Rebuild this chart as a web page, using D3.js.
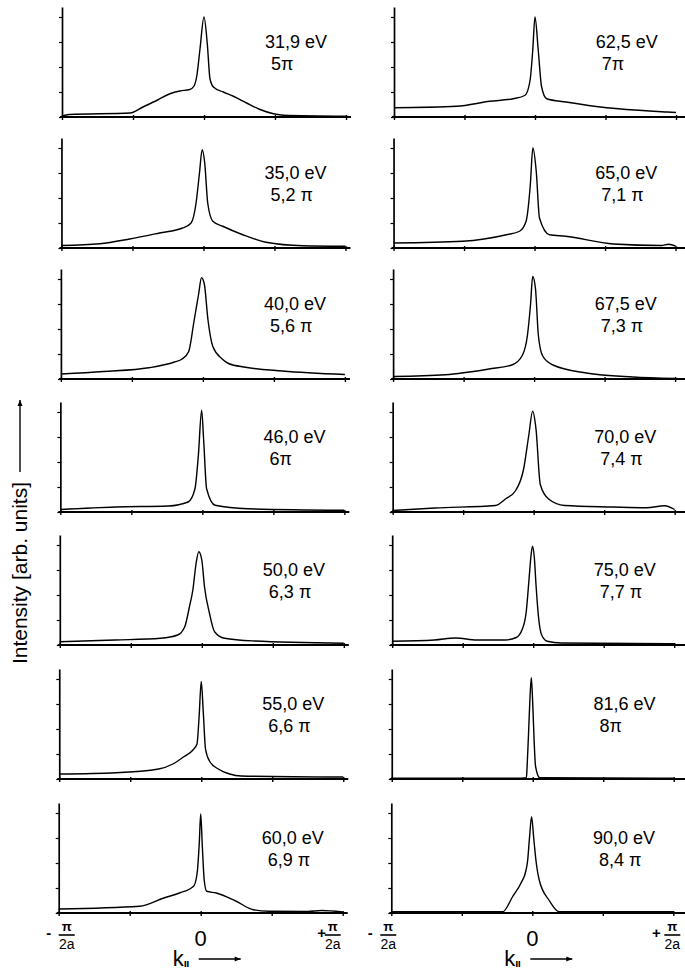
<!DOCTYPE html>
<html><head><meta charset="utf-8">
<script src="https://cdn.jsdelivr.net/npm/d3@7"></script>
<style>body{margin:0;background:#fff} svg{display:block}</style>
</head><body>
<svg id="c" width="685" height="974"></svg>
<script>
// ---- data (k in units of pi/2a, intensity in arb. units) ----
const energyLabels = ["31,9 eV","35,0 eV","40,0 eV","46,0 eV","50,0 eV","55,0 eV","60,0 eV",
                      "62,5 eV","65,0 eV","67,5 eV","70,0 eV","75,0 eV","81,6 eV","90,0 eV"];
const phaseLabels = ["5π","5,2 π","5,6 π","6π","6,3 π","6,6 π","6,9 π",
                     "7π","7,1 π","7,3 π","7,4 π","7,7 π","8π","8,4 π"];
const kTicks = [-1,-0.5,0,0.5,1];
const iTicks = [0,1,2,3,4];
const kTickLabels = ["-", "0", "+"];

const s31_9 = [[-1,0.04],[-0.95,0.1],[-0.52,0.16],[-0.43,0.4],[-0.33,0.67],[-0.24,0.93],[-0.17,1.04],[-0.1,1.1],[-0.07,1.24],[-0.05,1.67],[-0.028,2.73],[0,4.0],[0.024,2.87],[0.042,1.53],[0.066,1.2],[0.136,1.0],[0.207,0.83],[0.3,0.56],[0.39,0.31],[0.49,0.13],[0.56,0.07],[1,0.03]];
const s35_0 = [[-1,0.1],[-0.73,0.17],[-0.52,0.36],[-0.31,0.6],[-0.146,0.8],[-0.087,1.0],[-0.052,1.8],[-0.028,3.0],[-0.009,3.93],[0.009,3.4],[0.03,1.8],[0.066,1.07],[0.136,0.87],[0.277,0.53],[0.44,0.23],[0.7,0.09],[1,0.07]];
const s40_0 = [[-1,0.2],[-0.7,0.3],[-0.38,0.45],[-0.2,0.68],[-0.146,0.8],[-0.1,1.1],[-0.063,2.3],[-0.03,3.4],[-0.01,4.05],[0.01,3.8],[0.035,2.4],[0.07,1.3],[0.136,0.8],[0.18,0.62],[0.3,0.47],[0.56,0.32],[1,0.18]];
const s46_0 = [[-1,0.1],[-0.61,0.2],[-0.24,0.24],[-0.1,0.4],[-0.052,0.93],[-0.028,2.27],[-0.005,4.07],[0.009,2.9],[0.03,0.93],[0.09,0.27],[0.32,0.13],[1,0.07]];
const s50_0 = [[-1,0.13],[-0.61,0.2],[-0.29,0.27],[-0.17,0.4],[-0.12,0.73],[-0.087,1.53],[-0.063,2.2],[-0.04,3.27],[-0.021,3.73],[0,3.4],[0.019,2.33],[0.054,1.27],[0.09,0.53],[0.16,0.27],[0.37,0.16],[1,0.07]];
const s55_0 = [[-1,0.2],[-0.6,0.25],[-0.3,0.4],[-0.2,0.6],[-0.12,0.9],[-0.06,1.15],[-0.03,1.4],[-0.015,2.5],[0,3.9],[0.015,2.6],[0.03,1.2],[0.06,0.7],[0.12,0.4],[0.2,0.2],[0.28,0.12],[1,0.08]];
const s60_0 = [[-1,0.16],[-0.43,0.27],[-0.26,0.6],[-0.15,0.8],[-0.05,1.07],[-0.025,1.6],[-0.01,2.8],[0,3.96],[0.012,2.6],[0.025,1.3],[0.042,0.87],[0.11,0.8],[0.25,0.47],[0.37,0.13],[0.48,0.07],[0.75,0.06],[0.85,0.1],[1,0.04]];
const s62_5 = [[-1,0.37],[-0.555,0.43],[-0.32,0.63],[-0.154,0.73],[-0.07,0.87],[-0.035,1.47],[-0.016,2.67],[0,4.0],[0.023,2.67],[0.047,1.2],[0.083,0.73],[0.22,0.6],[0.51,0.37],[0.94,0.2],[1,0.18]];
const s65_0 = [[-1,0.2],[-0.51,0.27],[-0.2,0.53],[-0.106,0.67],[-0.06,1.07],[-0.03,2.53],[-0.012,4.0],[0.012,3.07],[0.035,1.2],[0.106,0.53],[0.22,0.47],[0.56,0.16],[0.9,0.1],[0.95,0.15],[1,0.08]];
const s67_5 = [[-1,0.1],[-0.63,0.17],[-0.32,0.4],[-0.154,0.57],[-0.083,0.95],[-0.047,1.76],[-0.025,3.0],[-0.01,4.1],[0.01,3.6],[0.03,1.76],[0.06,0.93],[0.13,0.57],[0.37,0.24],[0.7,0.08],[1,0.02]];
const s70_0 = [[-1,0.06],[-0.7,0.16],[-0.27,0.26],[-0.2,0.52],[-0.13,0.84],[-0.07,1.75],[-0.035,3.05],[-0.007,4.03],[0.017,3.3],[0.047,1.1],[0.106,0.52],[0.22,0.26],[0.56,0.2],[0.8,0.17],[0.93,0.25],[1,0.1]];
const s75_0 = [[-1,0.15],[-0.7,0.2],[-0.55,0.28],[-0.4,0.2],[-0.2,0.2],[-0.12,0.3],[-0.08,0.6],[-0.05,1.3],[-0.03,2.6],[-0.015,3.6],[-0.005,3.95],[0.008,3.5],[0.02,2.4],[0.04,1.0],[0.06,0.4],[0.1,0.15],[0.2,0.08],[1,0.05]];
const s81_6 = [[-1,0.03],[-0.08,0.03],[-0.045,0.05],[-0.04,0.5],[-0.03,1.8],[-0.02,3.2],[-0.01,4.05],[0,3.0],[0.01,1.5],[0.02,0.5],[0.05,0.05],[1,0.03]];
const s90_0 = [[-1,0.05],[-0.21,0.05],[-0.14,0.65],[-0.08,1.2],[-0.045,1.7],[-0.033,2.1],[-0.02,3.0],[-0.005,3.85],[0.01,3.0],[0.026,2.1],[0.05,1.3],[0.12,0.5],[0.19,0.05],[1,0.05]];

const series = [s31_9,s35_0,s40_0,s46_0,s50_0,s55_0,s60_0,s62_5,s65_0,s67_5,s70_0,s75_0,s81_6,s90_0];

// ---- layout ----
const baseY = [117, 248, 379, 512, 645, 779, 913];
const FONT = "'Liberation Sans', Arial, sans-serif";
const svg = d3.select("#c");

function arrow(g, x1, y1, x2, y2) {
  g.append("line").attr("x1",x1).attr("y1",y1).attr("x2",x2).attr("y2",y2)
    .attr("stroke","#000").attr("stroke-width",1.4);
  const a = Math.atan2(y2-y1, x2-x1), L = 6, W = 2.5;
  const p = [[x2,y2],
    [x2 - L*Math.cos(a) + W*Math.sin(a), y2 - L*Math.sin(a) - W*Math.cos(a)],
    [x2 - L*Math.cos(a) - W*Math.sin(a), y2 - L*Math.sin(a) + W*Math.cos(a)]];
  g.append("path").attr("d", d3.line()(p) + "Z").attr("fill","#000");
}

function frac(g, cx, sign, sx) {
  g.append("text").attr("x", cx).attr("y", 926.5).attr("text-anchor","middle")
    .attr("dominant-baseline","central").attr("font-size",13).attr("font-weight","bold")
    .attr("font-family",FONT).text("π");
  g.append("line").attr("x1",cx-8).attr("x2",cx+8).attr("y1",935).attr("y2",935)
    .attr("stroke","#000").attr("stroke-width",1.6);
  g.append("text").attr("x", cx).attr("y", 944).attr("text-anchor","middle")
    .attr("dominant-baseline","central").attr("font-size",14)
    .attr("font-family",FONT).text("2a");
  g.append("text").attr("x", sx).attr("y", 932).attr("text-anchor","middle")
    .attr("dominant-baseline","central").attr("font-size",15).attr("font-weight","bold")
    .attr("font-family",FONT).text(sign);
}

series.forEach((pts, idx) => {
  const col = Math.floor(idx / 7), row = idx % 7;
  const zero = col === 0 ? 204 - row * 0.55 : 535 - row * 0.45;
  const half = col === 0 ? 142 : 141;
  const x = d3.scaleLinear().domain([-1, 1]).range([zero - half, zero + half]);
  const y = d3.scaleLinear().domain([0, 4.4]).range([baseY[row], baseY[row] - 110]);
  const g = svg.append("g");

  // x axis line (extends a bit past +pi/2a)
  const xEnd = col === 0 ? x(1) + 5 : 685;
  g.append("line").attr("x1", x(-1) - 2).attr("x2", xEnd).attr("y1", y(0)).attr("y2", y(0))
    .attr("stroke", "#000").attr("stroke-width", 1.8);
  const xa = g.append("g").attr("transform", `translate(0,${y(0)})`)
    .call(d3.axisBottom(x).tickValues(kTicks).tickSize(3).tickFormat(""));
  xa.select(".domain").remove();
  xa.selectAll(".tick line").attr("y1", -2).attr("y2", 3).attr("stroke-width", 1.4);

  const ya = g.append("g").attr("transform", `translate(${x(-1)},0)`)
    .call(d3.axisLeft(y).tickValues(iTicks).tickSize(3).tickSizeOuter(0).tickFormat(""));
  ya.select(".domain").attr("stroke-width", 1.7);
  ya.selectAll(".tick line").attr("stroke-width", 1.2);

  const line = d3.line().x(d => x(d[0])).y(d => y(d[1])).curve(d3.curveMonotoneX);
  g.append("path").datum(pts).attr("d", line).attr("fill", "none")
    .attr("stroke", "#000").attr("stroke-width", 1.4).attr("stroke-linejoin","round");

  // labels
  const lx = x(0.43);
  g.append("text").attr("x", lx).attr("y", baseY[row] - 75).attr("dominant-baseline","central")
    .attr("font-size", 18).attr("font-family", FONT).text(energyLabels[idx]);
  g.append("text").attr("x", lx + 6).attr("y", baseY[row] - 53).attr("dominant-baseline","central")
    .attr("font-size", 18).attr("font-family", FONT).text(phaseLabels[idx]);

  if (row === 6) {
    if (col === 0) {
      frac(g, x(-1) + 8, kTickLabels[0], x(-1) - 10);
      frac(g, x(1) - 10, kTickLabels[2], x(1) - 21);
    } else {
      frac(g, x(-1) - 3, kTickLabels[0], x(-1) - 21);
      frac(g, x(1) - 1, kTickLabels[2], x(1) - 17);
    }
    g.append("text").attr("x", x(0)).attr("y", 938).attr("text-anchor","middle")
      .attr("dominant-baseline","central").attr("font-size", 22).attr("font-family", FONT).text(kTickLabels[1]);
    const kt = g.append("text").attr("x", x(0) - 28).attr("y", 966)
      .attr("font-size", 22).attr("font-family", FONT).text("k");
    kt.append("tspan").attr("font-size", 11).attr("dy", 1).attr("font-weight","bold")
      .attr("letter-spacing", -0.5).text("ıı");
    arrow(g, x(0) - 2, 959, x(0) + 40, 959);
  }
});

// y axis title
const yt = svg.append("g");
yt.append("text").attr("transform", "translate(19,482) rotate(-90)")
  .attr("text-anchor", "end").attr("dominant-baseline","central")
  .attr("font-size", 21).attr("font-family", FONT).text("Intensity [arb. units]");
arrow(yt, 20, 472, 20, 400);
</script>
</body></html>
